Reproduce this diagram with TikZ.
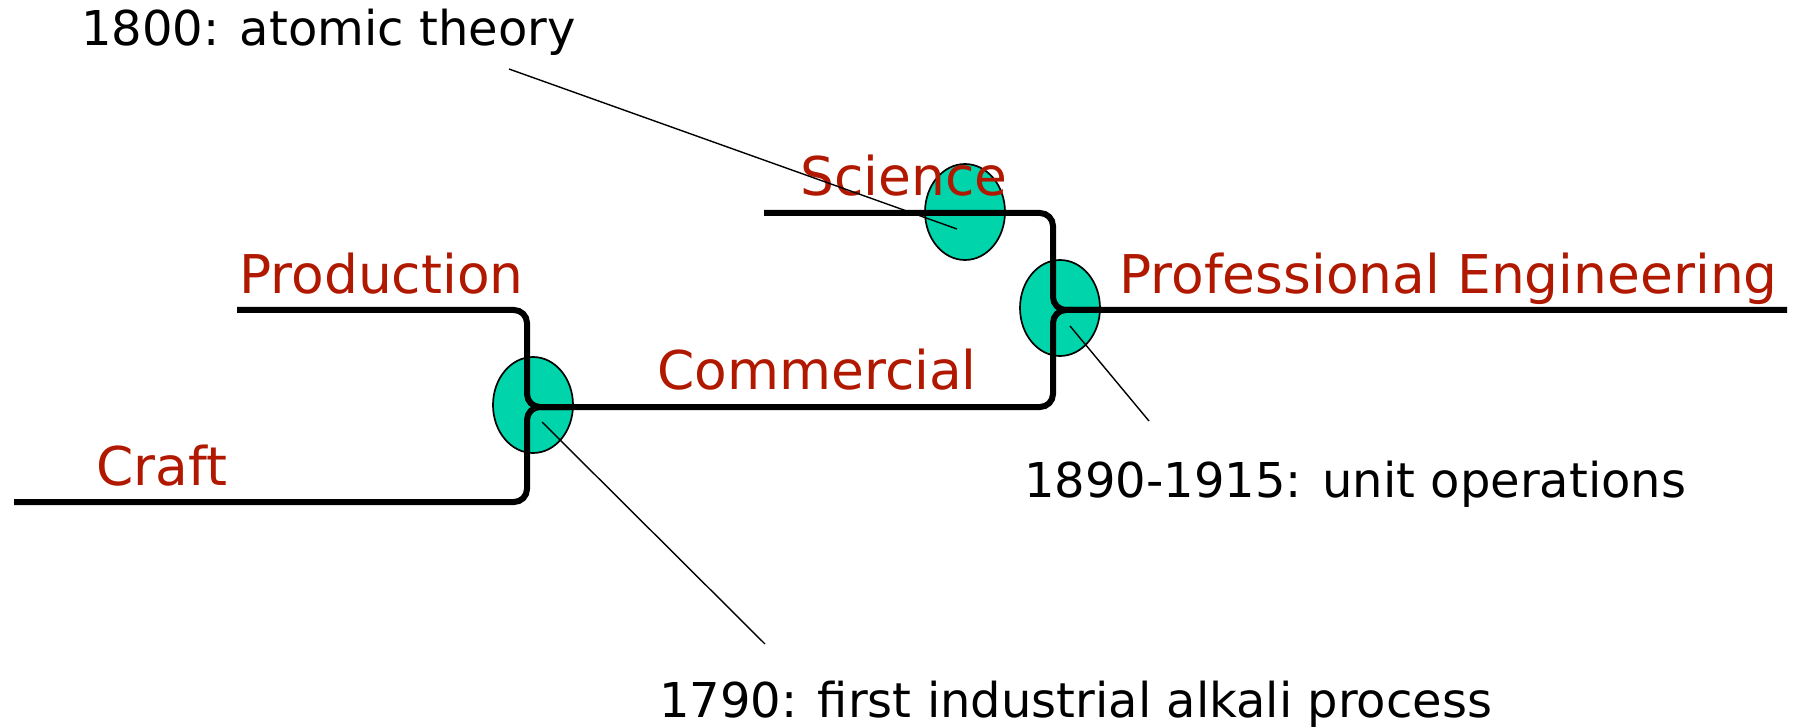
\documentclass[tikz,border=0pt]{standalone}
\usepackage{fontspec}
\setmainfont{DejaVu Sans}
\usetikzlibrary{shapes.geometric}
\definecolor{labred}{RGB}{176,24,0}
\definecolor{bubfill}{RGB}{0,212,170}
\tikzset{
  flow/.style={line width=3pt, rounded corners=6.5pt, line cap=butt},
  bubble/.style={ellipse, draw=black, fill=bubfill, line width=0.85pt, minimum width=40pt, minimum height=48pt, inner sep=0pt},
  note/.style={line width=0.7pt},
  lab/.style={text=labred, anchor=base west, inner sep=0pt, font=\fontsize{26.7}{32}\selectfont},
  ann/.style={text=black, anchor=base west, inner sep=0pt, font=\fontsize{24}{29}\selectfont}
}
\begin{document}
\begin{tikzpicture}[x=0.5pt,y=-0.5pt]
\useasboundingbox (0,0) rectangle (1794,727);
% bubbles
\node[bubble] (b1) at (533,405) {};
\node[bubble] (b2) at (1060,308) {};
\node[bubble] (b3) at (965,212) {};
% coordinates
\coordinate (craftS) at (14,502);
\coordinate (c1) at (527,502);
\coordinate (j1) at (527,407);
\coordinate (c2) at (1053,407);
\coordinate (j2) at (1053,310);
\coordinate (peE) at (1787,310);
\coordinate (prodS) at (237,310);
\coordinate (c3) at (527,310);
\coordinate (j1r) at (570,407);
\coordinate (sciS) at (764,213);
\coordinate (c4) at (1053,213);
\coordinate (j2r) at (1100,310);
% flows
\draw[flow] (craftS) -- (c1) -- (j1) -- (c2) -- (j2) -- (peE);
\draw[flow] (prodS) -- (c3) -- (j1) -- (j1r);
\draw[flow] (sciS) -- (c4) -- (j2) -- (j2r);
% labels
\node[lab] (craft) at (96,485) {Craft};
\node[lab] (prod) at (239,293) {Production};
\node[lab] (comm) at (657,389) {Commercial};
\node[lab] (sci) at (800,196) {Science};
\node[lab] (pe) at (1119,294) {Professional Engineering};
\node[ann] (t1800) at (81,46) {1800: atomic theory};
\node[ann] (t1890) at (1024,497) {1890-1915: unit operations};
\node[ann] (t1790) at (659,717) {1790: first industrial alkali process};
% annotation pointers
\coordinate (p1a) at (509,69);
\coordinate (p1b) at (957,229);
\coordinate (p2a) at (1070,326);
\coordinate (p2b) at (1149,421);
\coordinate (p3a) at (542,422);
\coordinate (p3b) at (765,644);
\draw[note] (p1a) -- (p1b);
\draw[note] (p2a) -- (p2b);
\draw[note] (p3a) -- (p3b);
\end{tikzpicture}
\end{document}
